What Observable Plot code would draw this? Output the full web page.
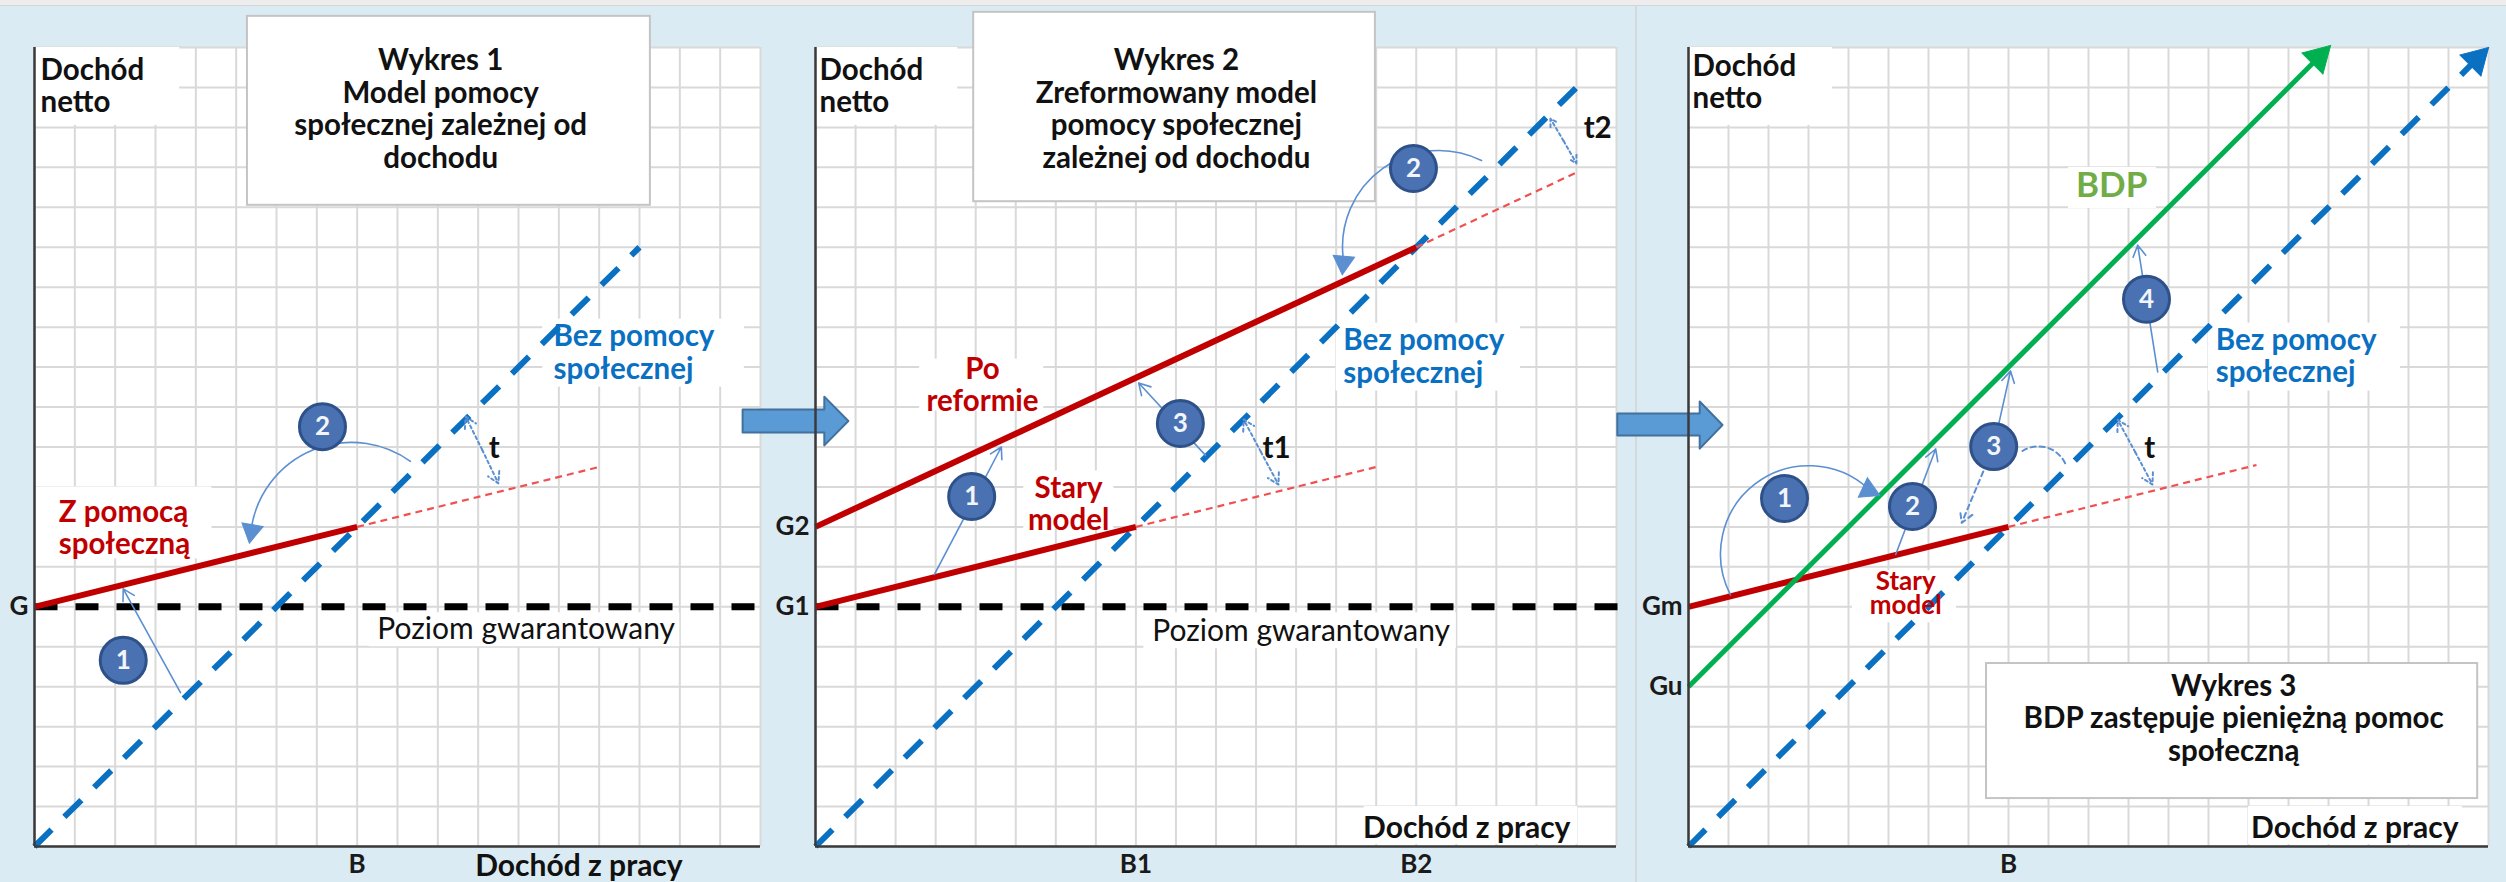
<!DOCTYPE html>
<html><head><meta charset="utf-8">
<script src="https://cdn.jsdelivr.net/npm/d3@7"></script>
<script src="https://cdn.jsdelivr.net/npm/@observablehq/plot@0.6"></script>
<style>
html,body{margin:0;padding:0;background:#dbebf3;}
#wrap{position:relative;width:2506px;height:882px;background:#dbebf3;overflow:hidden;}
#wrap svg{position:absolute;left:0;top:0;}
#topstrip{position:absolute;left:0;top:0;width:2506px;height:5px;background:#ededed;border-bottom:1px solid #d6d6d6;}
#sep{position:absolute;left:1635px;top:6px;width:2px;height:876px;background:#d3d9dc;}
</style></head>
<body><div id="wrap"><div id="topstrip"></div><div id="sep"></div></div>
<script>
// ---------- data (grid units: x = Dochód z pracy, y = Dochód netto) ----------
// Panel 1
const p1NoAid = [[0, 0], [15, 15]];
const p1Guarantee = [[0, 6], [18, 6]];
const p1Aid = [[0, 6], [8, 8]];
const p1AidExt = [[8, 8], [14, 9.5]];
const p1XTicks = [8], p1XLabels = ["B"];
const p1YTicks = [6], p1YLabels = ["G"];
// Panel 2
const p2NoAid = [[0, 0], [19, 19]];
const p2Guarantee = [[0, 6], [20.1, 6]];
const p2Old = [[0, 6], [8, 8]];
const p2OldExt = [[8, 8], [14, 9.5]];
const p2New = [[0, 8], [15, 15]];
const p2NewExt = [[15, 15], [19, 16.87]];
const p2XTicks = [8, 15], p2XLabels = ["B1", "B2"];
const p2YTicks = [6, 8], p2YLabels = ["G1", "G2"];
// Panel 3
const p3NoAid = [[0, 0], [19.6, 19.6]];
const p3Bdp = [[0, 4], [15.7, 19.7]];
const p3Old = [[0, 6], [8, 8]];
const p3OldExt = [[8, 8], [14.2, 9.55]];
const p3XTicks = [8], p3XLabels = ["B"];
const p3YTicks = [4, 6], p3YLabels = ["Gu", "Gm"];

const titles = [
  "Wykres 1\nModel pomocy\nspołecznej zależnej od\ndochodu",
  "Wykres 2\nZreformowany model\npomocy społecznej\nzależnej od dochodu",
  "Wykres 3\nBDP zastępuje pieniężną pomoc\nspołeczną"
];

// ---------- styles ----------
const RED = "#c00000", BLUE = "#0a70c2", GREEN = "#00b050", THIN = "#5b8fd1";
const GRID = "#d9d9d9", AXIS = "#3a3a3a";
const W = 2506, H = 882;
const FS = 29.5;

function panel(o) {
  const marks = [];
  marks.push(Plot.frame({fill: "white"}));
  marks.push(Plot.gridX({ticks: d3.range(0, o.nx + 1), stroke: GRID, strokeOpacity: 1, strokeWidth: 2}));
  marks.push(Plot.gridY({ticks: d3.range(0, 21), stroke: GRID, strokeOpacity: 1, strokeWidth: 2}));
  marks.push(Plot.rect(o.boxes, {x1: "x1", x2: "x2", y1: "y1", y2: "y2", fill: "white"}));
  marks.push(Plot.rect([o.titleBox], {x1: "x1", x2: "x2", y1: "y1", y2: "y2", fill: "white", stroke: "#c4c4c4", strokeWidth: 2}));
  if (o.block) marks.push(Plot.line(o.block, {fill: "#5b9bd5", stroke: "#41719c", strokeWidth: 2}));
  for (const s of o.series) {
    marks.push(Plot.line(s.data, {stroke: s.color, strokeWidth: s.width, strokeDasharray: s.dash, strokeLinecap: "butt"}));
  }
  marks.push(Plot.ruleX([0], {stroke: AXIS, strokeWidth: 2.5}));
  marks.push(Plot.ruleY([0], {stroke: AXIS, strokeWidth: 2.5}));
  for (const a of o.arrows) {
    marks.push(Plot.arrow([a], {x1: "x1", y1: "y1", x2: "x2", y2: "y2", bend: a.bend || 0,
      headLength: a.head == null ? 12 : a.head, stroke: THIN, strokeWidth: a.dash ? 2 : 1.6,
      strokeDasharray: a.dash}));
  }
  for (const h of (o.heads || [])) {
    marks.push(Plot.dot([h], {x: "x", y: "y", symbol: "triangle", r: h.r, fill: h.c, stroke: h.c, strokeWidth: 1, rotate: h.rot}));
  }
  marks.push(Plot.dot(o.circles, {x: "x", y: "y", r: 23, fill: "#4a72b2", stroke: "#2e5189", strokeWidth: 3}));
  marks.push(Plot.text(o.circles, {x: "x", y: "y", text: "n", fill: "#f2f5fb", fontSize: 26, fontWeight: "bold"}));
  for (const t of o.texts) {
    marks.push(Plot.text([t], {x: "x", y: "y", text: "t", textAnchor: t.anchor || "start",
      fill: t.color || "#111", fontSize: t.size || FS, fontWeight: t.weight || "bold", lineHeight: t.lh || 1.1}));
  }
  marks.push(Plot.axisX({ticks: o.xTicks, tickFormat: d => o.xLabels[o.xTicks.indexOf(d)], tickSize: 0, tickPadding: 8,
    fontSize: 26, fontWeight: "bold", fill: "#1a1a1a", label: null}));
  marks.push(Plot.axisY({ticks: o.yTicks, tickFormat: d => o.yLabels[o.yTicks.indexOf(d)], tickSize: 0, tickPadding: 6,
    fontSize: 26, fontWeight: "bold", fill: "#1a1a1a", label: null}));
  return Plot.plot({
    width: W, height: H,
    marginLeft: o.ml, marginRight: o.mr, marginTop: 47, marginBottom: 36,
    x: {domain: [0, o.nx]}, y: {domain: [0, 20]},
    style: {background: "transparent", fontFamily: "Lato, 'Open Sans', sans-serif", overflow: "visible"},
    marks
  });
}

const noAidTxt = "Bez pomocy\nspołecznej";
const guarTxt = "Poziom gwarantowany";
const workTxt = "Dochód z pracy";
const netTxt = "Dochód\nnetto";

const panels = [
  panel({
    nx: 18, ml: 34, mr: W - 760,
    xTicks: p1XTicks, xLabels: p1XLabels, yTicks: p1YTicks, yLabels: p1YLabels,
    boxes: [
      {x1: 0, x2: 3.6, y1: 18.05, y2: 20},
      {x1: 0.05, x2: 4.4, y1: 7.2, y2: 9.0},
      {x1: 12.6, x2: 17.6, y1: 11.5, y2: 13.2},
      {x1: 8.3, x2: 16, y1: 5.0, y2: 5.85}
    ],
    titleBox: {x1: 5.28, x2: 15.27, y1: 16.05, y2: 20.78},
    series: [
      {data: p1Guarantee, color: "#000", width: 7, dash: "23,18"},
      {data: p1NoAid, color: BLUE, width: 6, dash: "24,18"},
      {data: p1AidExt, color: "#f05050", width: 2.2, dash: "7,5"},
      {data: p1Aid, color: RED, width: 6}
    ],
    arrows: [
      {x1: 3.62, y1: 3.85, x2: 2.2, y2: 6.45},
      {x1: 9.32, y1: 9.64, x2: 5.38, y2: 8.0, bend: -58, head: 0},
      {x1: 11.1, y1: 9.93, x2: 10.69, y2: 10.76, dash: "3,3", head: 10},
      {x1: 11.1, y1: 9.93, x2: 11.5, y2: 9.09, dash: "3,3", head: 10}
    ],
    heads: [{x: 5.38, y: 7.9, r: 8, c: THIN, rot: 190}],
    circles: [{x: 2.2, y: 4.66, n: "1"}, {x: 7.14, y: 10.51, n: "2"}],
    texts: [
      {x: 0.15, y: 19.05, t: netTxt},
      {x: 10.07, y: 18.47, t: titles[0], anchor: "middle"},
      {x: 12.87, y: 12.37, t: noAidTxt, color: BLUE},
      {x: 0.6, y: 7.98, t: "Z pomocą\nspołeczną", color: RED},
      {x: 8.5, y: 5.46, t: guarTxt, weight: "normal", size: 30},
      {x: 11.4, y: 9.99, t: "t", anchor: "middle"},
      {x: 16.07, y: -0.48, t: workTxt, anchor: "end", size: 30}
    ]
  }),
  panel({
    nx: 20, ml: 815, mr: W - 1616,
    xTicks: p2XTicks, xLabels: p2XLabels, yTicks: p2YTicks, yLabels: p2YLabels,
    boxes: [
      {x1: 0, x2: 3.55, y1: 18.05, y2: 20},
      {x1: 2.6, x2: 5.7, y1: 10.9, y2: 12.2},
      {x1: 5.2, x2: 7.45, y1: 7.95, y2: 9.4},
      {x1: 13.0, x2: 17.6, y1: 11.4, y2: 13.1},
      {x1: 8.2, x2: 16, y1: 4.95, y2: 5.85},
      {x1: 13.7, x2: 19.03, y1: 0.05, y2: 1.0}
    ],
    titleBox: {x1: 3.95, x2: 13.98, y1: 16.14, y2: 20.88},
    block: [[-1.82, 10.94], [0.22, 10.94], [0.22, 11.26], [0.82, 10.65], [0.22, 10.04], [0.22, 10.36], [-1.82, 10.36], [-1.82, 10.94]],
    series: [
      {data: p2Guarantee, color: "#000", width: 7, dash: "23,18"},
      {data: p2NoAid, color: BLUE, width: 6, dash: "24,18"},
      {data: p2OldExt, color: "#f05050", width: 2.2, dash: "7,5"},
      {data: p2NewExt, color: "#f05050", width: 2.2, dash: "7,5"},
      {data: p2Old, color: RED, width: 6},
      {data: p2New, color: RED, width: 6}
    ],
    arrows: [
      {x1: 2.97, y1: 6.81, x2: 4.64, y2: 10.0},
      {x1: 9.74, y1: 9.79, x2: 8.07, y2: 11.6},
      {x1: 16.63, y1: 17.17, x2: 13.18, y2: 14.7, bend: -62, head: 0},
      {x1: 11.12, y1: 9.88, x2: 10.69, y2: 10.69, dash: "3,3", head: 10},
      {x1: 11.12, y1: 9.88, x2: 11.56, y2: 9.06, dash: "3,3", head: 10},
      {x1: 18.68, y1: 17.66, x2: 18.35, y2: 18.22, dash: "3,3", head: 10},
      {x1: 18.68, y1: 17.66, x2: 19.0, y2: 17.1, dash: "3,3", head: 10}
    ],
    heads: [{x: 13.18, y: 14.62, r: 8, c: THIN, rot: 185}],
    circles: [{x: 3.9, y: 8.76, n: "1"}, {x: 14.93, y: 16.97, n: "2"}, {x: 9.11, y: 10.59, n: "3"}],
    texts: [
      {x: 0.1, y: 19.05, t: netTxt},
      {x: 9.01, y: 18.47, t: titles[1], anchor: "middle"},
      {x: 4.17, y: 11.56, t: "Po\nreformie", color: RED, anchor: "middle"},
      {x: 6.32, y: 8.58, t: "Stary\nmodel", color: RED, anchor: "middle"},
      {x: 13.18, y: 12.27, t: noAidTxt, color: BLUE},
      {x: 8.41, y: 5.41, t: guarTxt, weight: "normal", size: 30},
      {x: 18.85, y: 0.48, t: workTxt, anchor: "end", size: 30},
      {x: 11.51, y: 9.99, t: "t1", anchor: "middle"},
      {x: 19.53, y: 18.0, t: "t2", anchor: "middle"}
    ]
  }),
  panel({
    nx: 20, ml: 1688, mr: W - 2488,
    xTicks: p3XTicks, xLabels: p3XLabels, yTicks: p3YTicks, yLabels: p3YLabels,
    boxes: [
      {x1: 0, x2: 3.6, y1: 18.05, y2: 20},
      {x1: 9.5, x2: 11.7, y1: 15.97, y2: 17.0},
      {x1: 4.1, x2: 6.7, y1: 5.6, y2: 6.9},
      {x1: 13.0, x2: 17.8, y1: 11.4, y2: 13.1},
      {x1: 14.0, x2: 19.35, y1: 0.05, y2: 1.0}
    ],
    titleBox: {x1: 7.45, x2: 19.73, y1: 1.2, y2: 4.58},
    block: [[-1.78, 10.84], [0.28, 10.84], [0.28, 11.14], [0.85, 10.55], [0.28, 9.96], [0.28, 10.29], [-1.78, 10.29], [-1.78, 10.84]],
    series: [
      {data: p3NoAid, color: BLUE, width: 6, dash: "24,18"},
      {data: p3OldExt, color: "#f05050", width: 2.2, dash: "7,5"},
      {data: p3Old, color: RED, width: 6},
      {data: p3Bdp, color: GREEN, width: 5}
    ],
    arrows: [
      {x1: 1.05, y1: 6.3, x2: 4.5, y2: 8.95, bend: 80, head: 0},
      {x1: 5.18, y1: 7.31, x2: 6.18, y2: 9.95},
      {x1: 7.63, y1: 10.01, x2: 8.05, y2: 11.9},
      {x1: 7.63, y1: 10.01, x2: 6.83, y2: 8.1, dash: "5,4", head: 10},
      {x1: 8.35, y1: 9.9, x2: 9.43, y2: 9.56, dash: "5,4", bend: 50, head: 0},
      {x1: 11.73, y1: 11.88, x2: 11.23, y2: 15.05},
      {x1: 11.17, y1: 9.87, x2: 10.73, y2: 10.68, dash: "3,3", head: 10},
      {x1: 11.17, y1: 9.87, x2: 11.6, y2: 9.06, dash: "3,3", head: 10}
    ],
    heads: [
      {x: 4.5, y: 8.92, r: 8, c: THIN, rot: 115},
      {x: 15.75, y: 19.75, r: 11, c: GREEN, rot: 45},
      {x: 19.7, y: 19.7, r: 11, c: BLUE, rot: 45}
    ],
    circles: [{x: 2.4, y: 8.71, n: "1"}, {x: 5.6, y: 8.51, n: "2"}, {x: 7.63, y: 10.01, n: "3"}, {x: 11.45, y: 13.7, n: "4"}],
    texts: [
      {x: 0.1, y: 19.15, t: netTxt},
      {x: 10.58, y: 16.57, t: "BDP", color: "#70ad47", anchor: "middle", size: 35},
      {x: 5.43, y: 6.31, t: "Stary\nmodel", color: RED, anchor: "middle", size: 26, lh: 0.93},
      {x: 13.18, y: 12.29, t: noAidTxt, color: BLUE},
      {x: 13.63, y: 3.22, t: titles[2], anchor: "middle"},
      {x: 19.25, y: 0.48, t: workTxt, anchor: "end", size: 30},
      {x: 11.53, y: 9.99, t: "t", anchor: "middle"}
    ]
  })
];

const wrap = document.getElementById("wrap");
for (const p of panels) wrap.appendChild(p);
</script>
</body></html>
